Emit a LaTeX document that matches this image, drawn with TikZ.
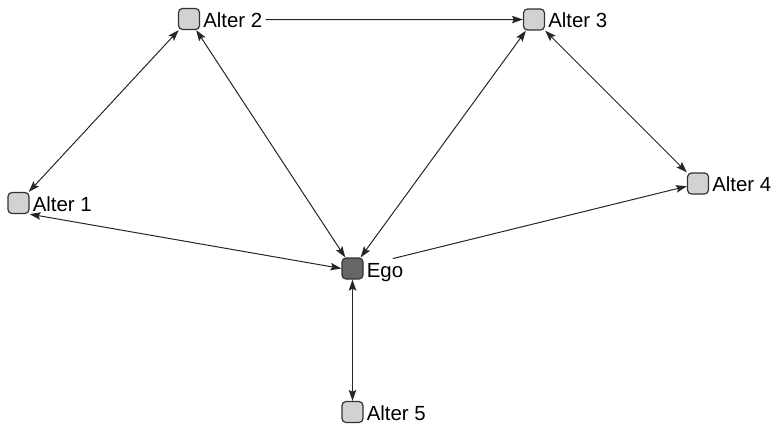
\documentclass[tikz,border=0pt]{standalone}
\usepackage{fontspec}
\setmainfont{Liberation Sans}
\usetikzlibrary{arrows.meta}
\definecolor{boxfill}{HTML}{D2D2D2}
\definecolor{egofill}{HTML}{666666}
\definecolor{boxline}{HTML}{333333}
\begin{document}
\begin{tikzpicture}[x=1bp,y=-1bp,
  actor/.style={draw=boxline,line width=1.2bp,fill=boxfill,rounded corners=4bp,
    minimum width=21bp,minimum height=21bp,inner sep=0pt},
  egobox/.style={actor,fill=egofill},
  actorlabel/.style={anchor=base west,inner sep=3bp,font=\fontsize{20.5}{24}\selectfont},
  link/.style={line width=1bp,black!85,{Stealth[length=11bp,width=7.5bp,inset=2bp]}-{Stealth[length=11bp,width=7.5bp,inset=2bp]}},
  onelink/.style={line width=1bp,black!85,-{Stealth[length=11bp,width=7.5bp,inset=2bp]}}]
\useasboundingbox (0,0) rectangle (774,424);
\node[actor] (a1) at (18.5,203) {};
\node[actor] (a2) at (189,19) {};
\node[actor] (a3) at (534,19.5) {};
\node[actor] (a4) at (698,183.5) {};
\node[actor] (a5) at (352.5,412) {};
\node[egobox] (ego) at (352.5,268.5) {};
\node[actorlabel] (l1) at ([yshift=-8bp]a1.east) {Alter 1};
\node[actorlabel] (l2) at ([yshift=-8bp]a2.east) {Alter 2};
\node[actorlabel] (l3) at ([yshift=-8bp]a3.east) {Alter 3};
\node[actorlabel] (l4) at ([yshift=-8bp]a4.east) {Alter 4};
\node[actorlabel] (l5) at ([yshift=-8bp]a5.east) {Alter 5};
\node[actorlabel] (le) at ([yshift=-9bp]ego.east) {Ego};
\draw[link] (a2) -- (a1);
\draw[link] (a1.south east) -- (ego.west);
\draw[link] (a2) -- (ego);
\draw[link] (a3) -- (ego);
\draw[link] (a3) -- (a4);
\draw[link] (ego) -- (a5);
\draw[onelink] (l2) -- (a3);
\draw[onelink,shorten <=30bp] (ego) -- (a4);
\end{tikzpicture}
\end{document}
